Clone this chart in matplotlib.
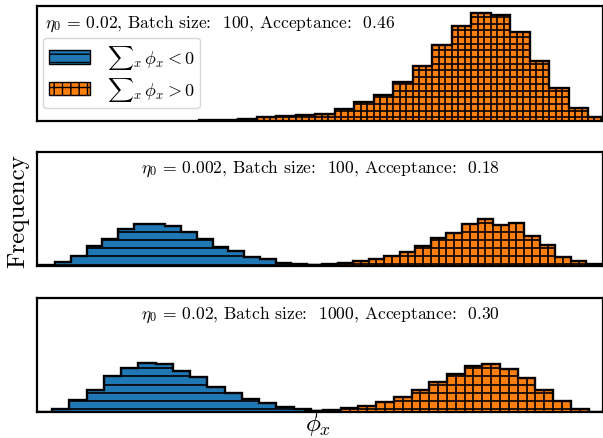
import matplotlib
matplotlib.use("Agg")
import matplotlib.pyplot as plt
from matplotlib.patches import Patch
import numpy as np

plt.rcParams["font.family"] = "serif"
plt.rcParams["font.serif"] = ["cmr10"]
plt.rcParams["mathtext.fontset"] = "cm"
plt.rcParams["axes.formatter.use_mathtext"] = True

BLUE = "#1f77b4"
ORANGE = "#ff7f0e"

# histogram bins: first edge, bin width, frequencies
# eta0 = 0.02, batch 100
top_pos_start, top_pos_width = -1.174, 0.1947
top_pos = [0.3, 0.7, 1.2, 3.4, 4.4, 5.7, 6.7, 11.7, 18.4, 25.7, 38.4, 55, 76,
           94.4, 107.7, 105.7, 89, 60, 32.4, 12.4, 3.4]

# eta0 = 0.002, batch 100
mid_neg_start, mid_neg_width = -2.7675, 0.1575
mid_neg = [1, 4, 10.7, 20.7, 27.3, 37.3, 42.5, 42.7, 40, 34.5, 27.5, 19, 15,
           9, 7, 3.7, 2.8, 1]
mid_pos_start, mid_pos_width = -0.095, 0.1555
mid_pos = [1.5, 2, 3.3, 5, 7, 10, 14.3, 20, 28.3, 33.3, 42, 47, 41, 43.3, 30,
           21.7, 9.3, 5.3, 2]

# eta0 = 0.02, batch 1000
bot_neg_start, bot_neg_width = -2.8125, 0.1725
bot_neg = [0.5, 3.3, 11.7, 22, 36, 44, 48.7, 48, 41, 35.3, 25.3, 19.3, 12.7,
           9.3, 5, 2.7, 1]
bot_pos_start, bot_pos_width = -0.107, 0.177
bot_pos = [1.3, 2, 3.7, 6, 10.3, 15, 22, 30, 37.7, 46, 48.3, 43.3, 34.3, 21.7,
           11, 3.3, 0.4]

titles = [r"$\eta_0\, =\, 0.02$, Batch size:  100, Acceptance:  0.46",
          r"$\eta_0\, =\, 0.002$, Batch size:  100, Acceptance:  0.18",
          r"$\eta_0\, =\, 0.02$, Batch size:  1000, Acceptance:  0.30"]
legend_labels = [r"${\sum}_x\,\phi_x < 0$", r"${\sum}_x\,\phi_x > 0$"]


def grid_hist(ax, start, width, counts, color, cell, offset, cols):
    counts = np.asarray(counts, dtype=float)
    edges = start + width * np.arange(len(counts) + 1)
    ax.stairs(counts, edges, fill=True, color=color, lw=0)
    for level in np.arange(offset, counts.max(), cell):
        ax.stairs(np.minimum(counts, level), edges, color="k", lw=1.2)
    if cols > 0:
        xs = edges[:-1, None] + width * np.arange(cols) / cols
        hs = np.repeat(counts, cols)
        ax.vlines(xs.ravel(), 0, hs, color="k", lw=1.2)
    ax.stairs(counts, edges, color="k", lw=1.7)


fig = plt.figure(figsize=(6.03, 4.39), dpi=100)
h = 0.2604
axes = [fig.add_axes([0.0614, b, 0.9386, h]) for b in (0.7228, 0.3907, 0.0588)]

grid_hist(axes[0], top_pos_start, top_pos_width, top_pos, ORANGE, 6.7, 3.3, 3)
grid_hist(axes[1], mid_neg_start, mid_neg_width, mid_neg, BLUE, 8.2, 1.8, 0)
grid_hist(axes[1], mid_pos_start, mid_pos_width, mid_pos, ORANGE, 8.2, 2.0, 2)
grid_hist(axes[2], bot_neg_start, bot_neg_width, bot_neg, BLUE, 8.3, 2.7, 0)
grid_hist(axes[2], bot_pos_start, bot_pos_width, bot_pos, ORANGE, 8.3, 2.7, 2)

for ax, title in zip(axes, titles):
    ax.set_xlim(-2.79, 2.87)
    ax.set_ylim(0, 114.3)
    ax.set_yticks([])
    ax.set_xticks([])
    for sp in ax.spines.values():
        sp.set_linewidth(1.6)
    if ax is axes[0]:
        ax.text(0.014, 0.95, title, transform=ax.transAxes, ha="left",
                va="top", fontsize=12.6)
    else:
        ax.text(0.5, 0.86, title, transform=ax.transAxes, ha="center",
                va="center", fontsize=12.6)

axes[2].set_xticks([0])
axes[2].set_xticklabels([""])
axes[2].tick_params(axis="x", length=3.5, width=0.8)

handles = [Patch(facecolor=BLUE, edgecolor="k", hatch="--"),
           Patch(facecolor=ORANGE, edgecolor="k", hatch="++")]
axes[0].legend(handles, legend_labels, loc="upper left",
               bbox_to_anchor=(0.0, 0.78), fontsize=13,
               handlelength=2.3, handleheight=0.75, borderpad=0.3,
               labelspacing=0.2, handletextpad=0.9, borderaxespad=0.35)

fig.text(0.03, 0.52, "Frequency", rotation=90, ha="center", va="center",
         fontsize=18)
fig.text(0.528, 0.032, r"$\phi_x$", ha="center", va="center", fontsize=18)

fig.savefig("out.png", dpi=100)
